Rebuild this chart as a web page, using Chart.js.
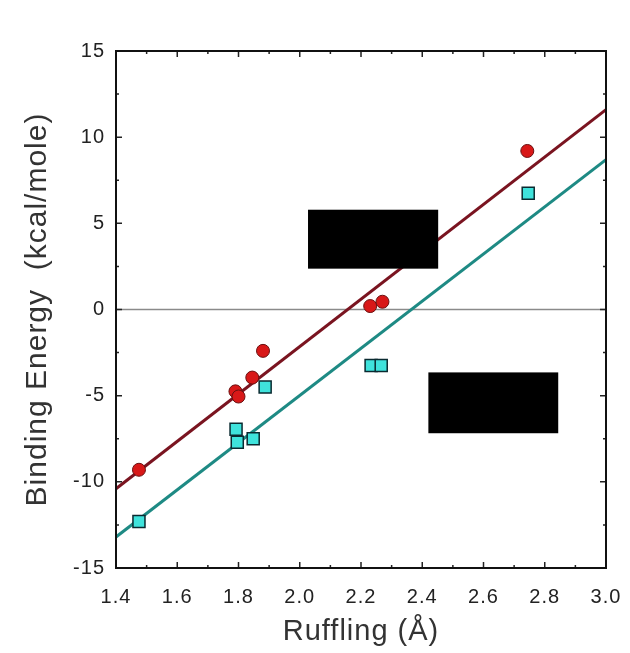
<!DOCTYPE html>
<html><head><meta charset="utf-8">
<script src="https://cdn.jsdelivr.net/npm/chart.js@4"></script>
<style>html,body{margin:0;padding:0;background:#fff}#wrap{width:630px;height:653px}</style>
</head><body><div id="wrap"><canvas id="c" width="630" height="653"></canvas></div>
<script>
// Data
const redX = [1.475, 1.79, 1.80, 1.845, 1.88, 2.23, 2.27, 2.743];
const redY = [-9.3, -4.75, -5.05, -3.95, -2.4, 0.2, 0.45, 9.2];
const cyanX = [1.475, 1.792, 1.796, 1.848, 1.887, 2.233, 2.266, 2.746];
const cyanY = [-12.3, -6.95, -7.7, -7.5, -4.5, -3.25, -3.25, 6.75];
const redFitX = [1.4, 3.0];
const redFitY = [-10.4, 11.6];
const cyanFitX = [1.4, 3.0];
const cyanFitY = [-13.2, 8.7];
const zeroLineX = [1.4, 3.0];
const zeroLineY = [0, 0];
const xTicks = [1.4, 1.6, 1.8, 2.0, 2.2, 2.4, 2.6, 2.8, 3.0];
const yTicks = [-15, -10, -5, 0, 5, 10, 15];
// redaction boxes in data units: [x0, x1, y0, y1]
const boxA = [2.027, 2.452, 2.37, 5.79];
const boxB = [2.42, 2.844, -7.18, -3.65];

const pts = (xs, ys) => xs.map((x, i) => ({x, y: ys[i]}));

const spacing = {
  id: 'spacing',
  beforeDraw(chart) { chart.ctx.letterSpacing = '1px'; }
};

const frameTicks = {
  id: 'frameTicks',
  afterDatasetsDraw(chart) {
    const {ctx, chartArea: a, scales: {x, y}} = chart;
    ctx.save();
    ctx.fillStyle = '#000';
    [boxA, boxB].forEach(b => {
      const x0 = x.getPixelForValue(b[0]), x1 = x.getPixelForValue(b[1]);
      const y0 = y.getPixelForValue(b[3]), y1 = y.getPixelForValue(b[2]);
      ctx.fillRect(x0, y0, x1 - x0, y1 - y0);
    });
    ctx.strokeStyle = '#222';
    ctx.lineWidth = 1.5;
    ctx.beginPath();
    for (let i = 0; i < xTicks.length * 2 - 1; i++) {
      const v = xTicks[0] + i * 0.1;
      const px = x.getPixelForValue(v);
      const L = i % 2 === 0 ? 6 : 3;
      ctx.moveTo(px, a.bottom); ctx.lineTo(px, a.bottom - L);
      ctx.moveTo(px, a.top); ctx.lineTo(px, a.top + L);
    }
    for (let i = 0; i < yTicks.length * 2 - 1; i++) {
      const v = yTicks[0] + i * 2.5;
      const py = y.getPixelForValue(v);
      const L = i % 2 === 0 ? 6 : 3;
      ctx.moveTo(a.left, py); ctx.lineTo(a.left + L, py);
      ctx.moveTo(a.right, py); ctx.lineTo(a.right - L, py);
    }
    ctx.stroke();
    ctx.strokeStyle = '#111';
    ctx.lineWidth = 2;
    ctx.strokeRect(a.left, a.top, a.right - a.left, a.bottom - a.top);
    ctx.restore();
  }
};

new Chart(document.getElementById('c'), {
  type: 'scatter',
  data: {
    datasets: [
      {data: pts(zeroLineX, zeroLineY), showLine: true, borderColor: '#8a8a8a', borderWidth: 1.5, pointRadius: 0, order: 5},
      {data: pts(redFitX, redFitY), showLine: true, borderColor: '#7a1420', borderWidth: 3, pointRadius: 0, order: 4},
      {data: pts(cyanFitX, cyanFitY), showLine: true, borderColor: '#1e8a84', borderWidth: 3, pointRadius: 0, order: 3},
      {data: pts(redX, redY), pointStyle: 'circle', pointRadius: 6.5, backgroundColor: '#d81818', borderColor: '#6a1010', borderWidth: 1, order: 1},
      {data: pts(cyanX, cyanY), pointStyle: 'rect', pointRadius: 8.5, backgroundColor: '#3fe3dc', borderColor: '#0a2a30', borderWidth: 1.5, order: 2}
    ]
  },
  options: {
    responsive: false,
    animation: false,
    devicePixelRatio: 1,
    layout: {padding: {left: 0, right: 24, top: 51, bottom: 0}},
    plugins: {legend: {display: false}, tooltip: {enabled: false}},
    scales: {
      x: {
        type: 'linear', min: 1.4, max: 3.0,
        afterBuildTicks: s => { s.ticks = xTicks.map(v => ({value: v})); },
        afterFit: s => { s.height = 85; s.paddingRight = 0; s.paddingLeft = 0; },
        grid: {display: false, drawTicks: false},
        border: {display: false},
        ticks: {padding: 17, color: '#222', font: {family: 'Liberation Sans', size: 20}, callback: v => v.toFixed(1), maxRotation: 0},
        title: {display: true, text: 'Ruffling (Å)', color: '#333', font: {family: 'Liberation Sans', size: 29}, padding: {top: 8}}
      },
      y: {
        type: 'linear', min: -15, max: 15,
        afterBuildTicks: s => { s.ticks = yTicks.map(v => ({value: v})); },
        afterFit: s => { s.width = 116; s.paddingTop = 0; s.paddingBottom = 0; },
        grid: {display: false, drawTicks: false},
        border: {display: false},
        ticks: {padding: 11, color: '#222', font: {family: 'Liberation Sans', size: 20}},
        title: {display: true, text: 'Binding Energy  (kcal/mole)', color: '#333', font: {family: 'Liberation Sans', size: 30}, padding: {top: 20, bottom: 0}}
      }
    }
  },
  plugins: [spacing, frameTicks]
});
</script></body></html>
